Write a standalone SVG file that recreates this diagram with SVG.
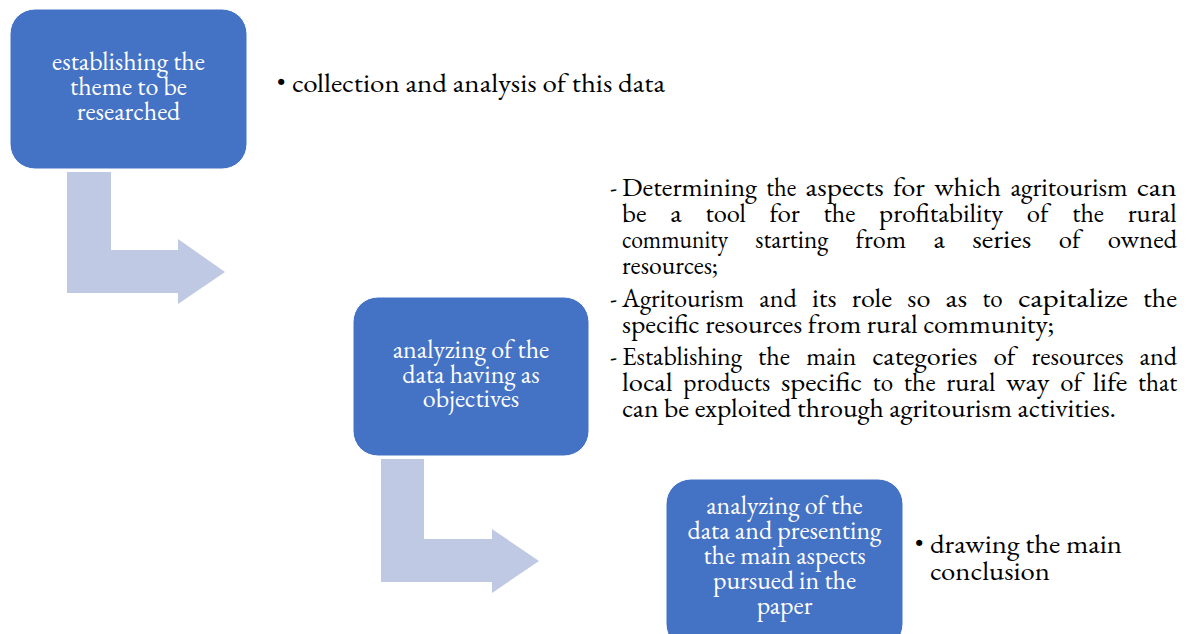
<svg xmlns="http://www.w3.org/2000/svg" width="1187" height="634" viewBox="0 0 1187 634">
  <style>
    .box { fill: #4472C4; stroke: #ffffff; stroke-width: 1; }
    .boxtxt { font-size: 26px; fill: #ffffff; text-anchor: middle; }
    .body { font-size: 26px; fill: #000000; }
    .bullet { font-size: 24px; fill: #000000; }
    .bend { fill: #BFC9E4; }
  </style>

  <!-- bent arrows linking the steps -->
  <g id="connectors">
    <polygon class="bend" points="67,172 111,172 111,250 178,250 178,239 225,272 178,304 178,293 67,293"/>
    <polygon class="bend" points="381,459 424,459 424,539 492,539 492,529 539,561 492,593 492,582 381,582"/>
  </g>

  <!-- step 1 -->
  <g id="step1" font-family="EB Garamond, Liberation Serif, serif">
    <rect class="box" x="10" y="9" width="237" height="160" rx="25" ry="25"/>
    <text class="boxtxt" x="128.5" y="70">establishing the</text>
    <text class="boxtxt" x="128.5" y="95">theme to be</text>
    <text class="boxtxt" x="128.5" y="120">researched</text>
  </g>
  <g id="step1-note" font-family="EB Garamond, Liberation Serif, serif">
    <text class="bullet" x="277" y="91">•</text>
    <text class="body" x="292" y="92" textLength="373" lengthAdjust="spacingAndGlyphs">collection and analysis of this data</text>
  </g>

  <!-- step 2 -->
  <g id="step2" font-family="EB Garamond, Liberation Serif, serif">
    <rect class="box" x="353" y="297" width="236" height="159" rx="25" ry="25"/>
    <text class="boxtxt" x="471" y="358">analyzing of the</text>
    <text class="boxtxt" x="471" y="383">data having as</text>
    <text class="boxtxt" x="471" y="407">objectives</text>
  </g>

  <!-- justified objectives list: one tspan per word -->
  <g id="step2-note" font-family="EB Garamond, Liberation Serif, serif" lengthAdjust="spacingAndGlyphs">
    <text class="body" x="610" y="196">-</text>
    <text class="body" y="196"><tspan x="622" textLength="135" lengthAdjust="spacingAndGlyphs">Determining</tspan><tspan x="766.3" textLength="30" lengthAdjust="spacingAndGlyphs">the</tspan><tspan x="805.6" textLength="78" lengthAdjust="spacingAndGlyphs">aspects</tspan><tspan x="892.9" textLength="32" lengthAdjust="spacingAndGlyphs">for</tspan><tspan x="934.2" textLength="67" lengthAdjust="spacingAndGlyphs">which</tspan><tspan x="1010.5" textLength="117" lengthAdjust="spacingAndGlyphs">agritourism</tspan><tspan x="1136.8" textLength="40" lengthAdjust="spacingAndGlyphs">can</tspan></text>
    <text class="body" y="222"><tspan x="622" textLength="24.5" lengthAdjust="spacingAndGlyphs">be</tspan><tspan x="670.2" textLength="11.5" lengthAdjust="spacingAndGlyphs">a</tspan><tspan x="705.4" textLength="40.5" lengthAdjust="spacingAndGlyphs">tool</tspan><tspan x="769.6" textLength="30.3" lengthAdjust="spacingAndGlyphs">for</tspan><tspan x="823.6" textLength="31.8" lengthAdjust="spacingAndGlyphs">the</tspan><tspan x="879.1" textLength="124" lengthAdjust="spacingAndGlyphs">profitability</tspan><tspan x="1026.8" textLength="21.7" lengthAdjust="spacingAndGlyphs">of</tspan><tspan x="1072.2" textLength="31.8" lengthAdjust="spacingAndGlyphs">the</tspan><tspan x="1127.7" textLength="49" lengthAdjust="spacingAndGlyphs">rural</tspan></text>
    <text class="body" y="248"><tspan x="622" textLength="106" lengthAdjust="spacingAndGlyphs">community</tspan><tspan x="755.3" textLength="73" lengthAdjust="spacingAndGlyphs">starting</tspan><tspan x="855.6" textLength="50.5" lengthAdjust="spacingAndGlyphs">from</tspan><tspan x="933.4" textLength="11.5" lengthAdjust="spacingAndGlyphs">a</tspan><tspan x="972.2" textLength="59.2" lengthAdjust="spacingAndGlyphs">series</tspan><tspan x="1058.7" textLength="21.7" lengthAdjust="spacingAndGlyphs">of</tspan><tspan x="1107.7" textLength="69.3" lengthAdjust="spacingAndGlyphs">owned</tspan></text>
    <text class="body" x="622" y="274" textLength="96" lengthAdjust="spacingAndGlyphs">resources;</text>

    <text class="body" x="610" y="307">-</text>
    <text class="body" y="307"><tspan x="622" textLength="122" lengthAdjust="spacingAndGlyphs">Agritourism</tspan><tspan x="759.2" textLength="37.5" lengthAdjust="spacingAndGlyphs">and</tspan><tspan x="811.9" textLength="24.6" lengthAdjust="spacingAndGlyphs">its</tspan><tspan x="851.7" textLength="40.4" lengthAdjust="spacingAndGlyphs">role</tspan><tspan x="907.3" textLength="23.1" lengthAdjust="spacingAndGlyphs">so</tspan><tspan x="945.6" textLength="21.7" lengthAdjust="spacingAndGlyphs">as</tspan><tspan x="982.5" textLength="20.2" lengthAdjust="spacingAndGlyphs">to</tspan><tspan x="1017.9" textLength="110" lengthAdjust="spacingAndGlyphs">capitalize</tspan><tspan x="1143.1" textLength="34" lengthAdjust="spacingAndGlyphs">the</tspan></text>
    <text class="body" x="622" y="333" textLength="432" lengthAdjust="spacingAndGlyphs">specific resources from rural community;</text>

    <text class="body" x="610" y="365">-</text>
    <text class="body" y="365"><tspan x="622" textLength="120" lengthAdjust="spacingAndGlyphs">Establishing</tspan><tspan x="758.1" textLength="32" lengthAdjust="spacingAndGlyphs">the</tspan><tspan x="806.2" textLength="50" lengthAdjust="spacingAndGlyphs">main</tspan><tspan x="872.3" textLength="105" lengthAdjust="spacingAndGlyphs">categories</tspan><tspan x="993.4" textLength="22" lengthAdjust="spacingAndGlyphs">of</tspan><tspan x="1031.5" textLength="92" lengthAdjust="spacingAndGlyphs">resources</tspan><tspan x="1139.6" textLength="37.5" lengthAdjust="spacingAndGlyphs">and</tspan></text>
    <text class="body" y="391"><tspan x="622" textLength="50.5" lengthAdjust="spacingAndGlyphs">local</tspan><tspan x="683.3" textLength="87" lengthAdjust="spacingAndGlyphs">products</tspan><tspan x="781" textLength="81" lengthAdjust="spacingAndGlyphs">specific</tspan><tspan x="872.8" textLength="20.2" lengthAdjust="spacingAndGlyphs">to</tspan><tspan x="903.8" textLength="31.8" lengthAdjust="spacingAndGlyphs">the</tspan><tspan x="946.3" textLength="49" lengthAdjust="spacingAndGlyphs">rural</tspan><tspan x="1006.1" textLength="43.3" lengthAdjust="spacingAndGlyphs">way</tspan><tspan x="1060.2" textLength="21.7" lengthAdjust="spacingAndGlyphs">of</tspan><tspan x="1092.7" textLength="34.7" lengthAdjust="spacingAndGlyphs">life</tspan><tspan x="1138.1" textLength="39" lengthAdjust="spacingAndGlyphs">that</tspan></text>
    <text class="body" x="622" y="417" textLength="494" lengthAdjust="spacingAndGlyphs">can be exploited through agritourism activities.</text>
  </g>

  <!-- step 3 -->
  <g id="step3" font-family="EB Garamond, Liberation Serif, serif">
    <rect class="box" x="666" y="479" width="237" height="170" rx="25" ry="25"/>
    <text class="boxtxt" x="784.5" y="514">analyzing of the</text>
    <text class="boxtxt" x="784.5" y="539">data and presenting</text>
    <text class="boxtxt" x="784.5" y="564">the main aspects</text>
    <text class="boxtxt" x="784.5" y="589">pursued in the</text>
    <text class="boxtxt" x="784.5" y="614">paper</text>
  </g>
  <g id="step3-note" font-family="EB Garamond, Liberation Serif, serif">
    <text class="bullet" x="915" y="552">•</text>
    <text class="body" x="930" y="553" textLength="192" lengthAdjust="spacingAndGlyphs">drawing the main</text>
    <text class="body" x="930" y="580" textLength="120" lengthAdjust="spacingAndGlyphs">conclusion</text>
  </g>
</svg>
